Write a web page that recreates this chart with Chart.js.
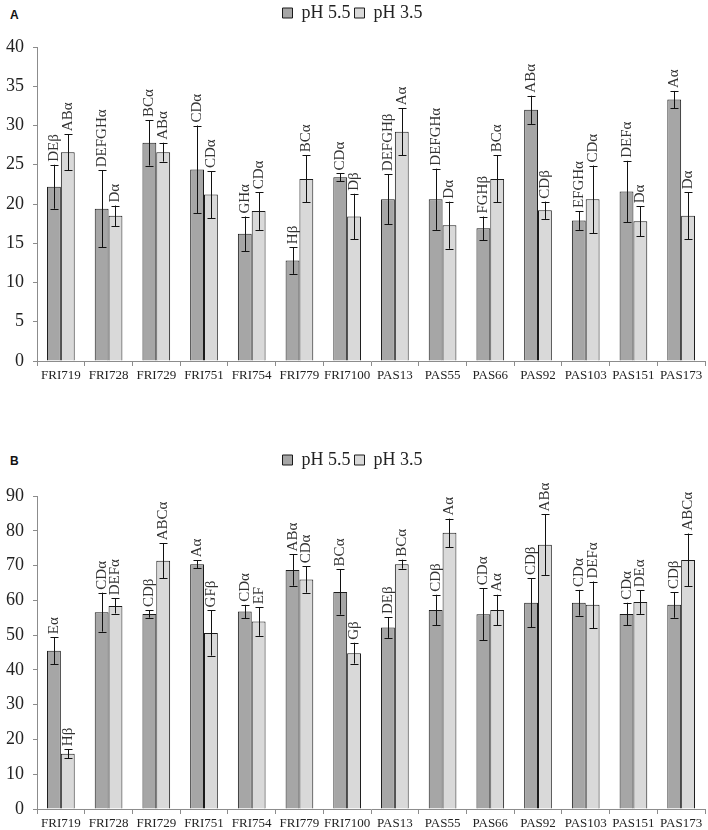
<!DOCTYPE html>
<html>
<head>
<meta charset="utf-8">
<script src="https://cdn.jsdelivr.net/npm/chart.js@4.4.0/dist/chart.umd.min.js"></script>
<style>
  body { margin: 0; background: #fff; width: 708px; height: 830px; position: relative; overflow: hidden; }
  .panel { position: absolute; left: 0; }
  .tag { position: absolute; left: 10px; font: bold 12px "Liberation Sans", Arial, sans-serif; color: #111; }
</style>
</head>
<body>
<div class="tag" style="top:8px">A</div>
<div class="tag" style="top:454px">B</div>
<div class="panel" style="top:0"><canvas id="chartA" width="708" height="400"></canvas></div>
<div class="panel" style="top:447px"><canvas id="chartB" width="708" height="383"></canvas></div>
<script>
// Danh mục chủng
const categories = ['FRI719', 'FRI728', 'FRI729', 'FRI751', 'FRI754', 'FRI779', 'FRI7100',
    'PAS13', 'PAS55', 'PAS66', 'PAS92', 'PAS103', 'PAS151', 'PAS173'];
const seriesNames = ['pH 5.5', 'pH 3.5'];

// Panel A
const a55 = [22.2, 19.4, 27.8, 24.4, 16.2, 12.8, 23.4, 20.6, 20.6, 16.9, 32.0, 17.9, 21.6, 33.3];
const a55Err = [2.8, 4.9, 2.9, 5.6, 2.2, 1.7, 0.5, 3.2, 3.9, 1.5, 1.8, 1.2, 3.9, 1.1];
const a35 = [26.6, 18.5, 26.6, 21.2, 19.1, 23.2, 18.4, 29.2, 17.3, 23.2, 19.2, 20.6, 17.8, 18.5];
const a35Err = [2.3, 1.3, 1.2, 3.0, 2.4, 3.0, 2.9, 3.0, 3.0, 3.0, 1.1, 4.3, 1.9, 3.0];
const a55Lab = ['DEβ', 'DEFGHα', 'BCα', 'CDα', 'GHα', 'Hβ', 'CDα', 'DEFGHβ', 'DEFGHα', 'FGHβ', 'ABα', 'EFGHα', 'DEFα', 'Aα'];
const a35Lab = ['ABα', 'Dα', 'ABα', 'CDα', 'CDα', 'BCα', 'Dβ', 'Aα', 'Dα', 'BCα', 'CDβ', 'CDα', 'Dα', 'Dα'];
const aTicks = { min: 0, max: 40, step: 5 };

// Panel B
const b55 = [45.5, 56.6, 56.1, 70.4, 56.8, 68.7, 62.4, 52.2, 57.2, 56.0, 59.3, 59.3, 56.1, 58.7];
const b55Err = [3.9, 5.6, 1.1, 1.1, 1.9, 4.5, 6.5, 3.0, 4.4, 7.5, 7.1, 3.7, 3.2, 3.7];
const b35 = [15.9, 58.4, 71.4, 50.6, 53.9, 66.0, 44.8, 70.4, 79.4, 57.2, 76.0, 58.7, 59.5, 71.6];
const b35Err = [1.3, 2.2, 5.0, 6.5, 4.1, 3.8, 3.0, 1.3, 4.1, 4.4, 8.7, 6.7, 3.4, 7.6];
const b55Lab = ['Eα', 'CDα', 'CDβ', 'Aα', 'CDα', 'ABα', 'BCα', 'DEβ', 'CDβ', 'CDα', 'CDβ', 'CDα', 'CDα', 'CDβ'];
const b35Lab = ['Hβ', 'DEFα', 'ABCα', 'GFβ', 'EF', 'CDα', 'Gβ', 'BCα', 'Aα', 'Aα', 'ABα', 'DEFα', 'DEα', 'ABCα'];
const bTicks = { min: 0, max: 90, step: 10 };

const serif = '"Liberation Serif", "Times New Roman", serif';
const axisColor = '#8c8c8c';

// Vẽ thanh sai số và nhãn chữ xoay dọc
const errorLabelPlugin = {
    id: 'errorLabels',
    afterDatasetsDraw(chart) {
        const ctx = chart.ctx;
        const yScale = chart.scales.y;
        chart.data.datasets.forEach((ds, i) => {
            const meta = chart.getDatasetMeta(i);
            meta.data.forEach((bar, j) => {
                const v = ds.data[j];
                const e = ds.errors[j];
                const yTop = yScale.getPixelForValue(v + e);
                const yBot = yScale.getPixelForValue(v - e);
                const x = Math.round(bar.x) + 0.5;
                ctx.save();
                ctx.strokeStyle = '#111';
                ctx.lineWidth = 1;
                ctx.beginPath();
                ctx.moveTo(x, yTop);
                ctx.lineTo(x, yBot);
                ctx.moveTo(x - 4, Math.round(yTop) + 0.5);
                ctx.lineTo(x + 4, Math.round(yTop) + 0.5);
                ctx.moveTo(x - 4, Math.round(yBot) + 0.5);
                ctx.lineTo(x + 4, Math.round(yBot) + 0.5);
                ctx.stroke();

                ctx.translate(x, yTop - 3);
                ctx.rotate(-Math.PI / 2);
                ctx.fillStyle = '#333';
                ctx.font = '15px ' + serif;
                ctx.textAlign = 'left';
                ctx.textBaseline = 'middle';
                ctx.fillText(ds.letters[j], 0, 0);
                ctx.restore();
            });
        });
    }
};

// Thêm khoảng trống dưới chú thích
const legendGap = {
    id: 'legendGap',
    beforeInit(chart, args, opts) {
        const fit = chart.legend.fit;
        chart.legend.fit = function() {
            fit.bind(chart.legend)();
            this.height += opts.gap || 0;
        };
    }
};

function makeChart(id, d55, e55, l55, d35, e35, l35, ticks, gap, xHeight) {
    const ctx = document.getElementById(id).getContext('2d');
    return new Chart(ctx, {
        type: 'bar',
        data: {
            labels: categories,
            datasets: [{
                label: seriesNames[0],
                data: d55,
                errors: e55,
                letters: l55,
                backgroundColor: '#a6a6a6',
                borderColor: '#1a1a1a',
                borderWidth: 1
            }, {
                label: seriesNames[1],
                data: d35,
                errors: e35,
                letters: l35,
                backgroundColor: '#d9d9d9',
                borderColor: '#1a1a1a',
                borderWidth: 1
            }]
        },
        options: {
            responsive: false,
            animation: false,
            layout: { padding: { left: 0, right: 3, top: 0, bottom: 0 } },
            datasets: { bar: { categoryPercentage: 0.58, barPercentage: 1 } },
            plugins: {
                legend: {
                    position: 'top',
                    labels: {
                        boxWidth: 10,
                        boxHeight: 10,
                        padding: 4,
                        color: '#222',
                        font: { family: serif, size: 18 }
                    }
                },
                tooltip: { enabled: false },
                legendGap: { gap: gap }
            },
            scales: {
                x: {
                    afterFit: s => { s.height = xHeight; },
                    border: { color: axisColor },
                    grid: { offset: true, drawOnChartArea: false, tickLength: 5, color: axisColor },
                    ticks: { color: '#222', font: { family: serif, size: 13 }, padding: 2, maxRotation: 0, autoSkip: false }
                },
                y: {
                    min: ticks.min,
                    max: ticks.max,
                    afterFit: s => { s.width = 37; },
                    border: { color: axisColor },
                    grid: { drawOnChartArea: false, tickLength: 4, color: axisColor },
                    ticks: { stepSize: ticks.step, color: '#222', font: { family: serif, size: 18 }, padding: 9 }
                }
            }
        },
        plugins: [errorLabelPlugin, legendGap]
    });
}

const chartA = makeChart('chartA', a55, a55Err, a55Lab, a35, a35Err, a35Lab, aTicks, 15, 39);
const chartB = makeChart('chartB', b55, b55Err, b55Lab, b35, b35Err, b35Lab, bTicks, 17, 21);
</script>
</body>
</html>
